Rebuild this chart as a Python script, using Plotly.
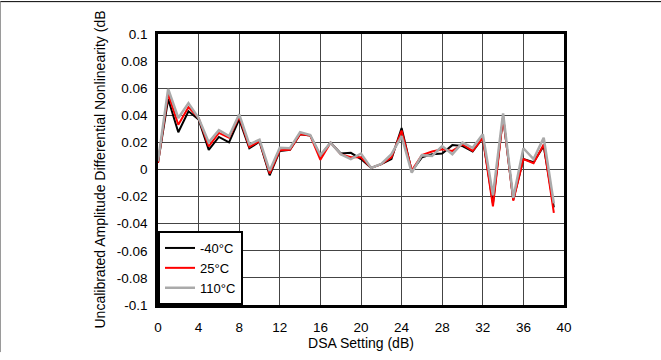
import plotly.graph_objects as go

dsa = list(range(40))

n40 = [0.005, 0.052, 0.0275, 0.043, 0.037, 0.0145, 0.024, 0.020, 0.037, 0.0157,
       0.0205, -0.0043, 0.0137, 0.0145, 0.026, 0.025, 0.010, 0.0198, 0.0118, 0.0123,
       0.0077, 0.0012, 0.004, 0.0077, 0.0306, -0.0012, 0.009, 0.0113, 0.0118, 0.018,
       0.0173, 0.0133, 0.0234, -0.025, 0.039, -0.0224, 0.0077, 0.0053, 0.0173, -0.028]

p25 = [0.005, 0.056, 0.033, 0.046, 0.038, 0.017, 0.027, 0.0234, 0.039, 0.0166,
       0.021, -0.003, 0.0142, 0.0145, 0.026, 0.025, 0.0072, 0.0198, 0.0113, 0.009,
       0.009, 0.0012, 0.004, 0.009, 0.0287, -0.0007, 0.0106, 0.0133, 0.015, 0.0137,
       0.0185, 0.0137, 0.0234, -0.0272, 0.039, -0.023, 0.0077, 0.0046, 0.0185, -0.032]

p110 = [0.006, 0.0595, 0.038, 0.049, 0.038, 0.020, 0.029, 0.0246, 0.0407, 0.0186,
        0.022, -0.001, 0.016, 0.0157, 0.0275, 0.0255, 0.0106, 0.0198, 0.0113, 0.0077,
        0.0118, 0.0012, 0.0042, 0.0113, 0.0246, -0.0024, 0.0106, 0.010, 0.0173, 0.0113,
        0.0198, 0.016, 0.026, -0.019, 0.0414, -0.021, 0.0157, 0.0077, 0.0234, -0.025]

names = ["-40°C", "25°C", "110°C"]
colors = ["#000000", "#ff0000", "#aaaaaa"]
widths = [2, 2, 2.5]
series = [n40, p25, p110]

x_ticks = list(range(0, 41, 4))
y_ticks = [round(-0.1 + 0.02 * i, 2) for i in range(11)]
y_tick_text = ["0" if abs(v) < 1e-9 else (f"{v:g}") for v in y_ticks]

fig = go.Figure()
for s, n, c, w in zip(series, names, colors, widths):
    fig.add_trace(go.Scatter(x=dsa, y=s, mode="lines", name=n,
                             line=dict(color=c, width=w)))

font = dict(family="Liberation Sans, Arial, sans-serif", color="#000000")

fig.update_layout(
    width=661, height=360,
    margin=dict(l=158, r=97, t=34, b=48),
    paper_bgcolor="white", plot_bgcolor="white",
    font=dict(size=14, **font),
    showlegend=True,
    legend=dict(x=0, y=0, xanchor="left", yanchor="bottom",
                bordercolor="#000000", borderwidth=2, bgcolor="white",
                font=dict(size=13, **font), tracegroupgap=0,
                itemwidth=30),
    xaxis=dict(range=[0, 40], tickvals=x_ticks, ticktext=[str(v) for v in x_ticks],
               showgrid=True, gridcolor="#444444", gridwidth=1,
               showline=True, linecolor="#000000", linewidth=2.5, mirror=True,
               zeroline=False, ticks="", ticklabelstandoff=8,
               tickfont=dict(size=13.5, **font),
               title=dict(text="DSA Setting (dB)", font=dict(size=14, **font), standoff=3)),
    yaxis=dict(range=[-0.1, 0.1], tickvals=y_ticks, ticktext=y_tick_text,
               showgrid=True, gridcolor="#444444", gridwidth=1,
               showline=True, linecolor="#000000", linewidth=2.5, mirror=True,
               zeroline=False, ticks="", ticklabelstandoff=5,
               tickfont=dict(size=13.5, **font),
               title=dict(text="Uncalibrated Amplitude Differential Nonlinearity (dB",
                          font=dict(size=14, **font), standoff=8)),
    shapes=[
        dict(type="line", xref="paper", yref="paper",
             x0=(0 - 158) / 405.6, x1=(661 - 158) / 405.6,
             y0=(311.7 - 0.5) / 278, y1=(311.7 - 0.5) / 278,
             line=dict(color="#000000", width=1)),
        dict(type="line", xref="paper", yref="paper",
             x0=(0.5 - 158) / 405.6, x1=(0.5 - 158) / 405.6,
             y0=(311.7 - 0) / 278, y1=(311.7 - 360) / 278,
             line=dict(color="#888888", width=1)),
    ],
)

fig.write_html(
    "out.html",
    config={"displayModeBar": False},
    post_script="document.body.style.margin='0';document.body.style.padding='0';"
                "document.body.style.overflow='hidden';",
)
